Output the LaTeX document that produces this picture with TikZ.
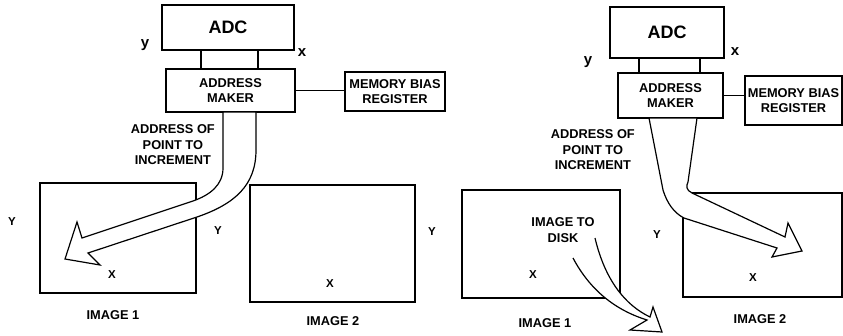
\documentclass[tikz,border=0pt]{standalone}
\usepackage{fontspec}
\setmainfont{Liberation Sans}
\begin{document}
\begin{tikzpicture}[x=1pt,y=-1pt,
  box/.style={draw,line width=1.2pt,rectangle,inner sep=0pt,font=\fontsize{12.8}{15.5}\selectfont\bfseries,align=center},
  lbl/.style={font=\fontsize{12.8}{15.5}\selectfont\bfseries,inner sep=0pt,align=center},
  axl/.style={font=\fontsize{11.5}{13}\selectfont\bfseries,inner sep=0pt},
  xyl/.style={font=\fontsize{15}{17}\selectfont\bfseries,inner sep=0pt},
  blk/.style={line width=1.2pt,line join=miter}]
\useasboundingbox (0,0) rectangle (843,335);
\fill[white] (0,0) rectangle (843,335);
% ---------- left panel ----------
\node[box,minimum width=132pt,minimum height=45pt,font=\fontsize{18}{20}\selectfont\bfseries] (adc1) at (228,27.5) {ADC};
\node[box,minimum width=57pt,minimum height=19pt] (conn1) at (229.5,59.5) {};
\node[box,minimum width=129pt,minimum height=43pt] (am1) at (230.5,90.5) {ADDRESS\\MAKER};
\node[box,minimum width=100pt,minimum height=39pt] (mb1) at (395,91.5) {MEMORY BIAS\\REGISTER};
\draw[line width=1.2pt] (am1.east) -- (am1.east -| mb1.west);
\node[box,minimum width=156pt,minimum height=110pt] (img1a) at (118,238) {};
\node[box,minimum width=165pt,minimum height=117pt] (img2a) at (332.5,243.5) {};
\draw[blk,fill=white] (223,112) -- (223,168) .. controls (223,185) and (210,195) .. (193,201)
  -- (82,238) -- (77,222) -- (65,259) -- (100,265) -- (88,253) -- (197,217)
  .. controls (235,204) and (256,185) .. (256,150) -- (256,112) -- cycle;
\node[xyl] (y1) at (145,45) {y};
\node[xyl] (x1) at (302,53) {x};
\node[lbl,anchor=east] (addr1) at (215,145) {ADDRESS OF\\POINT TO\\INCREMENT};
\node[axl] (Y1a) at (12,222) {Y};
\node[axl] (X1a) at (112,275) {X};
\node[axl] (Y2a) at (218,231) {Y};
\node[axl] (X2a) at (330,284) {X};
\node[lbl] (cap1a) at (113,315) {IMAGE 1};
\node[lbl] (cap2a) at (333,321) {IMAGE 2};
% ---------- right panel ----------
\node[box,minimum width=114pt,minimum height=51pt,font=\fontsize{18}{20}\selectfont\bfseries] (adc2) at (667,32.5) {ADC};
\node[box,minimum width=61pt,minimum height=15pt] (conn2) at (669.5,65.5) {};
\node[box,minimum width=105pt,minimum height=45pt] (am2) at (670.5,95.5) {ADDRESS\\MAKER};
\node[box,minimum width=97pt,minimum height=49pt] (mb2) at (793.5,100.5) {MEMORY BIAS\\REGISTER};
\draw[line width=1.2pt] (am2.east) -- (am2.east -| mb2.west);
\node[box,minimum width=158pt,minimum height=108pt] (img1b) at (541,244) {};
\node[box,minimum width=159pt,minimum height=104pt] (img2b) at (762.5,245) {};
\draw[blk,fill=white] (649,118) -- (663,190) .. controls (667,203) and (674,213) .. (684,218)
  -- (777,248) -- (772,257) -- (802,251) -- (788,223) -- (785,237) -- (692,193)
  .. controls (686,190) and (686,186) .. (688,182) -- (697,118) -- cycle;
\fill[white] (573,258) .. controls (590,290) and (615,310) .. (647,320) -- (630,330) -- (662,332)
  -- (653,307) -- (650,317) .. controls (625,305) and (605,280) .. (595,238) -- cycle;
\draw[blk] (573,258) .. controls (590,290) and (615,310) .. (647,320) -- (630,330) -- (662,332)
  -- (653,307) -- (650,317) .. controls (625,305) and (605,280) .. (595,238);
\node[xyl] (y2) at (588,62) {y};
\node[xyl] (x2) at (735,52) {x};
\node[lbl,anchor=east] (addr2) at (635,150) {ADDRESS OF\\POINT TO\\INCREMENT};
\node[lbl] (disk) at (563,230) {IMAGE TO\\DISK};
\node[axl] (Y1b) at (432,232) {Y};
\node[axl] (X1b) at (533,275) {X};
\node[axl] (Y2b) at (657,235) {Y};
\node[axl] (X2b) at (753,278) {X};
\node[lbl] (cap1b) at (545,323) {IMAGE 1};
\node[lbl] (cap2b) at (760,319) {IMAGE 2};
\end{tikzpicture}
\end{document}
